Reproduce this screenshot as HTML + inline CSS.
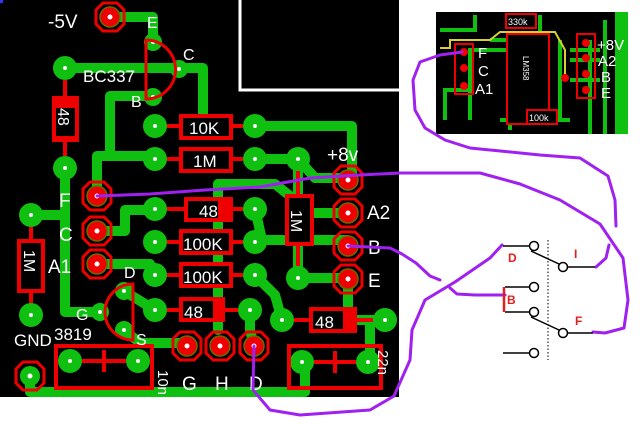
<!DOCTYPE html>
<html><head><style>
html,body{margin:0;padding:0;background:#fff;}
svg{display:block;}
text{font-family:"Liberation Sans",sans-serif;}
</style></head><body>
<svg width="640" height="424" viewBox="0 0 640 424" xmlns="http://www.w3.org/2000/svg">
<rect x="0" y="0" width="640" height="424" fill="#fff"/>
<rect x="0" y="0" width="399" height="397" fill="#000"/>
<rect x="0" y="0" width="3" height="3" fill="#33f"/>
<path d="M240,0 V90 H399" stroke="#fff" stroke-width="3" fill="none"/>

<g stroke="#10c010" stroke-width="10" fill="none" stroke-linejoin="round" stroke-linecap="round">
<path d="M110,17 H153 V42"/>
<path d="M65,68 H203 V118"/>
<path d="M153,96 H110 V156 H97 V196"/>
<path d="M110,156 H155"/>
<path d="M255,126 H352 V180"/>
<path d="M255,159 H298 L315,178 H348"/>
<path d="M298,159 V278"/>
<path d="M65,168 V312 H100"/>
<path d="M31,215 H65"/>
<path d="M97,231 H125 V210 H155"/>
<path d="M97,264 H150 L155,275"/>
<path d="M218,184 V330"/>
<path d="M218,184 H275 L295,200"/>
<path d="M255,209 L262,240 H348"/>
<path d="M313,213 H348"/>
<path d="M298,278 H348"/>
<path d="M255,275 L275,295 L282,320"/>
<path d="M348,279 V320 H385"/>
<path d="M370,320 V361"/>
<path d="M124,291 L155,310"/>
<path d="M124,330 L140,343 H187"/>
<path d="M30,376 V392 H305 V361"/>
<path d="M250,310 V330 L254,346"/>
</g>
<g fill="#10c010">
<circle cx="153" cy="42" r="9"/><circle cx="179" cy="69" r="9"/><circle cx="153" cy="97" r="9"/>
<circle cx="65" cy="68" r="12"/><circle cx="65" cy="168" r="12"/>
<circle cx="155" cy="126" r="12"/><circle cx="255" cy="126" r="12"/>
<circle cx="155" cy="159" r="12"/><circle cx="255" cy="159" r="12"/><circle cx="298" cy="159" r="12"/>
<circle cx="155" cy="209" r="12"/><circle cx="255" cy="209" r="12"/>
<circle cx="155" cy="242" r="12"/><circle cx="255" cy="242" r="12"/>
<circle cx="155" cy="275" r="12"/><circle cx="255" cy="275" r="12"/>
<circle cx="298" cy="278" r="12"/>
<circle cx="31" cy="215" r="12"/><circle cx="31" cy="315" r="12"/>
<circle cx="100" cy="312" r="9"/><circle cx="124" cy="291" r="9"/><circle cx="124" cy="330" r="9"/>
<circle cx="155" cy="310" r="12"/><circle cx="250" cy="310" r="12"/>
<circle cx="282" cy="320" r="12"/><circle cx="385" cy="320" r="12"/>
<circle cx="70" cy="361" r="12"/><circle cx="138" cy="361" r="12"/>
<circle cx="302" cy="362" r="12"/><circle cx="368" cy="362" r="12"/>
</g>
<g fill="#fff">
<circle cx="153" cy="42" r="2"/><circle cx="179" cy="69" r="2"/><circle cx="153" cy="97" r="2"/>
<circle cx="65" cy="68" r="2"/><circle cx="65" cy="168" r="2"/>
<circle cx="155" cy="126" r="2"/><circle cx="255" cy="126" r="2"/>
<circle cx="155" cy="159" r="2"/><circle cx="255" cy="159" r="2"/><circle cx="298" cy="159" r="2"/>
<circle cx="155" cy="209" r="2"/><circle cx="255" cy="209" r="2"/>
<circle cx="155" cy="242" r="2"/><circle cx="255" cy="242" r="2"/>
<circle cx="155" cy="275" r="2"/><circle cx="255" cy="275" r="2"/>
<circle cx="298" cy="278" r="2"/>
<circle cx="31" cy="215" r="2"/><circle cx="31" cy="315" r="2"/>
<circle cx="100" cy="312" r="2"/><circle cx="124" cy="291" r="2"/><circle cx="124" cy="330" r="2"/>
<circle cx="155" cy="310" r="2"/><circle cx="250" cy="310" r="2"/>
<circle cx="282" cy="320" r="2"/><circle cx="385" cy="320" r="2"/>
<circle cx="70" cy="361" r="2"/><circle cx="138" cy="361" r="2"/>
<circle cx="302" cy="362" r="2"/><circle cx="368" cy="362" r="2"/>
</g>

<path d="M146,40 A29.5,29.5 0 0 1 146,99 Z" fill="none" stroke="#e00" stroke-width="3"/>
<path d="M133,284 A28,28 0 0 0 133,340 Z" fill="none" stroke="#e00" stroke-width="3"/>

<g stroke="#e00" stroke-width="4" fill="#000">
<line x1="167" y1="126" x2="180" y2="126"/><line x1="232" y1="126" x2="243" y2="126"/>
<rect x="181" y="116" width="50" height="22"/>
<line x1="167" y1="159" x2="180" y2="159"/><line x1="232" y1="159" x2="243" y2="159"/>
<rect x="181" y="149" width="50" height="22"/>
<line x1="167" y1="209" x2="185" y2="209"/><line x1="232" y1="209" x2="243" y2="209"/>
<rect x="186" y="199" width="45" height="21" fill="#e00"/>
<line x1="167" y1="242" x2="180" y2="242"/><line x1="232" y1="242" x2="243" y2="242"/>
<rect x="181" y="231" width="50" height="22"/>
<line x1="167" y1="275" x2="180" y2="275"/><line x1="232" y1="275" x2="243" y2="275"/>
<rect x="181" y="264" width="50" height="22"/>
<line x1="167" y1="310" x2="180" y2="310"/><line x1="224" y1="310" x2="238" y2="310"/>
<rect x="181" y="299" width="42" height="21" fill="#e00"/>
<line x1="294" y1="320" x2="310" y2="320"/><line x1="355" y1="320" x2="373" y2="320"/>
<rect x="311" y="309" width="44" height="22" fill="#e00"/>
<line x1="65" y1="80" x2="65" y2="98"/><line x1="65" y1="140" x2="65" y2="156"/>
<rect x="54" y="98" width="23" height="42" fill="#e00"/>
<line x1="31" y1="227" x2="31" y2="241"/><line x1="31" y1="291" x2="31" y2="303"/>
<rect x="19" y="241" width="24" height="50"/>
<line x1="298" y1="171" x2="298" y2="196"/><line x1="298" y1="244" x2="298" y2="266"/>
<rect x="287" y="196" width="25" height="48"/>
<rect x="56" y="346" width="96" height="42" fill="none"/>
<rect x="289" y="346" width="92" height="42" fill="none"/>
</g>
<g fill="#000"><rect x="188" y="201" width="30" height="17"/><rect x="183" y="301" width="30" height="17"/><rect x="313" y="311" width="30" height="18"/><rect x="56" y="108" width="19" height="28"/></g>
<g stroke="#e00" stroke-width="4"><line x1="82" y1="361" x2="126" y2="361"/><line x1="104" y1="350" x2="104" y2="372"/><line x1="314" y1="362" x2="356" y2="362"/><line x1="335" y1="351" x2="335" y2="373"/></g>

<g stroke="#e00" stroke-width="3" fill="none">
<polygon points="103,3 117,3 124,10 124,24 117,31 103,31 96,24 96,10"/>
<polygon points="90,182 104,182 111,189 111,203 104,210 90,210 83,203 83,189"/>
<polygon points="90,217 104,217 111,224 111,238 104,245 90,245 83,238 83,224"/>
<polygon points="90,250 104,250 111,257 111,271 104,278 90,278 83,271 83,257"/>
<polygon points="341,166 355,166 362,173 362,187 355,194 341,194 334,187 334,173"/>
<polygon points="341,199 355,199 362,206 362,220 355,227 341,227 334,220 334,206"/>
<polygon points="341,232 355,232 362,239 362,253 355,260 341,260 334,253 334,239"/>
<polygon points="341,265 355,265 362,272 362,286 355,293 341,293 334,286 334,272"/>
<polygon points="180,332 194,332 201,339 201,353 194,360 180,360 173,353 173,339"/>
<polygon points="213,332 227,332 234,339 234,353 227,360 213,360 206,353 206,339"/>
<polygon points="247,332 261,332 268,339 268,353 261,360 247,360 240,353 240,339"/>
<polygon points="23,362 37,362 44,369 44,383 37,390 23,390 16,383 16,369"/>
</g>
<g fill="#e00" stroke="#6a6a00" stroke-width="1.5">
<circle cx="110" cy="17" r="10"/><circle cx="97" cy="196" r="10"/><circle cx="97" cy="231" r="10"/><circle cx="97" cy="264" r="10"/>
<circle cx="348" cy="180" r="10"/><circle cx="348" cy="213" r="10"/><circle cx="348" cy="246" r="10"/><circle cx="348" cy="279" r="10"/>
<circle cx="187" cy="346" r="10"/><circle cx="220" cy="346" r="10"/><circle cx="254" cy="346" r="10"/>
</g>
<circle cx="30" cy="376" r="10" fill="#10c010"/>
<g fill="#fff">
<circle cx="110" cy="17" r="2.5"/><circle cx="97" cy="196" r="2.5"/><circle cx="97" cy="231" r="2.5"/><circle cx="97" cy="264" r="2.5"/>
<circle cx="348" cy="180" r="2.5"/><circle cx="348" cy="213" r="2.5"/><circle cx="348" cy="246" r="2.5"/><circle cx="348" cy="279" r="2.5"/>
<circle cx="187" cy="346" r="2.5"/><circle cx="220" cy="346" r="2.5"/><circle cx="254" cy="346" r="2.5"/><circle cx="30" cy="376" r="2.5"/>
</g>

<g fill="#fff" font-size="19">
<text x="48" y="28">-5V</text>
<text x="147" y="28" font-size="16">E</text>
<text x="183" y="60" font-size="16">C</text>
<text x="131" y="107" font-size="16">B</text>
<text x="83" y="82" font-size="17">BC337</text>
<text x="189" y="134" font-size="17">10K</text>
<text x="193" y="167" font-size="17">1M</text>
<text x="199" y="217" font-size="17">48</text>
<text x="183" y="250" font-size="17">100K</text>
<text x="183" y="283" font-size="17">100K</text>
<text x="184" y="318" font-size="17">48</text>
<text x="315" y="328" font-size="17">48</text>
<text x="327" y="161" font-size="19">+8v</text>
<text x="367" y="219">A2</text>
<text x="368" y="254">B</text>
<text x="368" y="287">E</text>
<text x="59" y="207">F</text>
<text x="59" y="241">C</text>
<text x="48" y="273">A1</text>
<text x="124" y="278" font-size="16">D</text>
<text x="76" y="320" font-size="16">G</text>
<text x="136" y="345" font-size="16">S</text>
<text x="54" y="340" font-size="17">3819</text>
<text x="14" y="346" font-size="17">GND</text>
<text x="182" y="390">G</text>
<text x="215" y="390">H</text>
<text x="249" y="390">D</text>
<text transform="translate(58,108) rotate(90)" font-size="16">48</text>
<text transform="translate(24,250) rotate(90)" font-size="16">1M</text>
<text transform="translate(291,210) rotate(90)" font-size="16">1M</text>
<text transform="translate(158,370) rotate(90)" font-size="15">10n</text>
<text transform="translate(378,350) rotate(90)" font-size="15">22n</text>
</g>

<rect x="436" y="12" width="192" height="122" fill="#000"/>
<rect x="615" y="12" width="13" height="122" fill="#10c010"/>
<g stroke="#10c010" stroke-width="4" fill="none">
<path d="M440,30 H475 V15"/><path d="M490,40 H540 V15"/><path d="M445,120 V90 H470"/>
<path d="M525,50 H470 V120"/><path d="M528,60 H510 V130"/><path d="M528,80 H520 V120"/>
<path d="M570,50 H600"/><path d="M570,60 H600"/><path d="M570,80 H600"/>
<path d="M500,120 H570"/><path d="M560,40 V120"/><path d="M590,40 V134"/>
<path d="M605,20 V134"/>
</g>
<path d="M440,48 H450 V40 H490 L500,32 H555 L565,50 V78" stroke="#d8d030" stroke-width="2" fill="none"/>
<rect x="507" y="34" width="42" height="90" fill="#000" stroke="#e00" stroke-width="2"/>
<text transform="translate(523,56) rotate(90)" fill="#fff" font-size="8">LM358</text>
<rect x="506" y="14" width="30" height="14" fill="#000" stroke="#e00" stroke-width="2"/>
<text x="508" y="25" fill="#fff" font-size="9">330k</text>
<rect x="527" y="110" width="30" height="14" fill="#000" stroke="#e00" stroke-width="2"/>
<text x="529" y="121" fill="#fff" font-size="9">100k</text>
<rect x="455" y="44" width="18" height="50" fill="none" stroke="#e00" stroke-width="2"/>
<rect x="577" y="34" width="18" height="64" fill="none" stroke="#e00" stroke-width="2"/>
<g fill="#e00">
<circle cx="464" cy="52" r="4"/><circle cx="464" cy="68" r="4"/><circle cx="464" cy="86" r="4"/>
<circle cx="586" cy="43" r="4"/><circle cx="586" cy="58" r="4"/><circle cx="586" cy="74" r="4"/><circle cx="586" cy="90" r="4"/>
<circle cx="565" cy="78" r="4"/>
</g>
<g fill="#fff" font-size="15">
<text x="478" y="58">F</text><text x="478" y="76">C</text><text x="475" y="94">A1</text>
<text x="597" y="50">+8V</text><text x="598" y="66">A2</text><text x="601" y="82">B</text><text x="601" y="98">E</text>
</g>

<g stroke="#a020f0" stroke-width="3" fill="none" stroke-linecap="round" stroke-linejoin="round">
<path d="M97,196 L150,194 L205,190 L260,187 L310,178 L360,175 L400,173 L480,173 L520,184 L560,200 L600,224 L623,258 L628,300 L624,328 L605,333 L593,332"/>
<path d="M462,52 L440,55 L420,62 L413,80 L415,110 L425,128 L445,140 L470,148 L540,155 L580,158 L608,176 L615,200 L616,226"/>
<path d="M609,245 L606,258 L596,267"/>
<path d="M348,246 L390,248 L402,254 L416,263 L430,276 L440,280"/>
<path d="M450,288 L457,294 L475,295 L505,295"/>
<path d="M254,346 L253,390 L270,410 L300,415 L370,410 L394,396 L410,360 L412,330 L425,300 L455,282 L490,258 L502,245"/>
</g>

<g stroke="#000" stroke-width="1.5" fill="#fff">
<line x1="503" y1="246" x2="530" y2="246"/>
<line x1="531" y1="251" x2="559" y2="264"/>
<line x1="567" y1="267" x2="595" y2="267"/>
<line x1="505" y1="287" x2="530" y2="287"/>
<line x1="505" y1="312" x2="530" y2="312"/>
<line x1="531" y1="317" x2="559" y2="330"/>
<line x1="567" y1="333" x2="593" y2="333"/>
<line x1="503" y1="353" x2="530" y2="353"/>
<circle cx="534" cy="246" r="4.5"/><circle cx="563" cy="267" r="4.5"/>
<circle cx="534" cy="287" r="4.5"/><circle cx="534" cy="312" r="4.5"/>
<circle cx="563" cy="333" r="4.5"/><circle cx="534" cy="353" r="4.5"/>
</g>
<line x1="548" y1="240" x2="548" y2="360" stroke="#000" stroke-width="1" stroke-dasharray="1.5,2"/>
<line x1="504" y1="287" x2="504" y2="312" stroke="#e02020" stroke-width="2.5"/>
<g fill="#e02020" font-size="12" font-weight="bold">
<text x="508" y="262">D</text><text x="574" y="258">I</text><text x="507" y="304">B</text><text x="575" y="325">F</text>
</g>
</svg>
</body></html>
